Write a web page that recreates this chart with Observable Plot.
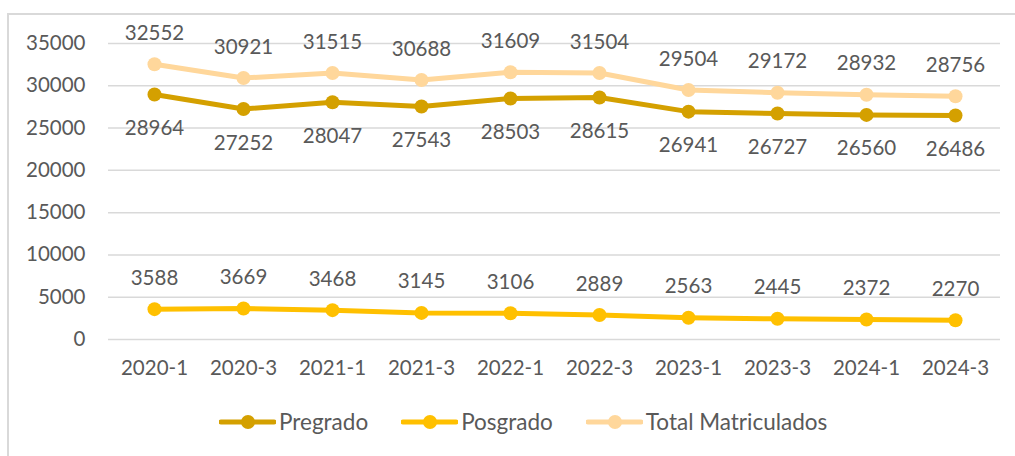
<!DOCTYPE html>
<html>
<head>
<meta charset="utf-8">
<script src="https://cdn.jsdelivr.net/npm/d3@7"></script>
<script src="https://cdn.jsdelivr.net/npm/@observablehq/plot@0.6"></script>
<style>
  html, body { margin: 0; padding: 0; background: #fff; }
  body { width: 1015px; height: 456px; position: relative; overflow: hidden; font-family: Lato, "Noto Sans", sans-serif; }
  #frame { position: absolute; left: 7px; top: 13px; width: 1100px; height: 500px; border-left: 2px solid #D9D9D9; border-top: 2px solid #D9D9D9; }
  #chart { position: absolute; left: 0; top: 0; }
  #legend { position: absolute; left: 219px; top: 408px; display: flex; align-items: center; color: #595959; font-size: 22.5px; }
  .item { display: flex; align-items: center; margin-right: 33px; }
  .item svg { margin-right: 3px; }
</style>
</head>
<body>
<div id="frame"></div>
<div id="chart"></div>
<div id="legend"></div>
<script>
const periods = ["2020-1","2020-3","2021-1","2021-3","2022-1","2022-3","2023-1","2023-3","2024-1","2024-3"];
const pregrado = [28964,27252,28047,27543,28503,28615,26941,26727,26560,26486];
const posgrado = [3588,3669,3468,3145,3106,2889,2563,2445,2372,2270];
const total = [32552,30921,31515,30688,31609,31504,29504,29172,28932,28756];
const seriesNames = ["Pregrado","Posgrado","Total Matriculados"];
const seriesColors = ["#D4A000","#FFC000","#FFD79B"];
const yTicks = [0,5000,10000,15000,20000,25000,30000,35000];

const rows = [];
[pregrado, posgrado, total].forEach((vals, s) => {
  vals.forEach((v, i) => rows.push({period: periods[i], value: v, series: seriesNames[s]}));
});
const above = rows.filter(d => d.series !== "Pregrado");
const below = rows.filter(d => d.series === "Pregrado");

const plot = Plot.plot({
  width: 1015,
  height: 390,
  marginLeft: 108,
  marginRight: 15,
  marginTop: 43,
  marginBottom: 51,
  style: {fontFamily: "Lato, 'Noto Sans', sans-serif", fontSize: "20.5px", color: "#595959", background: "transparent"},
  x: {type: "point", domain: periods, padding: 0.5, label: null},
  y: {domain: [0, 35000], label: null},
  color: {domain: seriesNames, range: seriesColors},
  marks: [
    Plot.gridY(yTicks, {stroke: "#D9D9D9", strokeOpacity: 1, strokeWidth: 1.5}),
    Plot.axisY(yTicks, {tickSize: 0, tickPadding: 23, tickFormat: d => String(d), fontSize: 20.5, fill: "#595959"}),
    Plot.axisX({tickSize: 0, tickPadding: 21, fontSize: 20.5, fill: "#595959"}),
    Plot.line(rows, {x: "period", y: "value", z: "series", stroke: "series", strokeWidth: 5}),
    Plot.dot(rows, {x: "period", y: "value", fill: "series", r: 7}),
    Plot.text(above, {x: "period", y: "value", text: d => String(d.value), dy: -31, fill: "#595959", fontSize: 20.5}),
    Plot.text(below, {x: "period", y: "value", text: d => String(d.value), dy: 34, fill: "#595959", fontSize: 20.5})
  ]
});
document.getElementById("chart").appendChild(plot);

const legend = document.getElementById("legend");
seriesNames.forEach((name, i) => {
  const item = document.createElement("div");
  item.className = "item";
  const sw = d3.create("svg").attr("width", 57).attr("height", 16);
  sw.append("line").attr("x1", 2).attr("x2", 55).attr("y1", 8).attr("y2", 8)
    .attr("stroke", seriesColors[i]).attr("stroke-width", 5).attr("stroke-linecap", "round");
  sw.append("circle").attr("cx", 29).attr("cy", 8).attr("r", 7).attr("fill", seriesColors[i]);
  item.appendChild(sw.node());
  const label = document.createElement("span");
  label.textContent = name;
  item.appendChild(label);
  legend.appendChild(item);
});
</script>
</body>
</html>
